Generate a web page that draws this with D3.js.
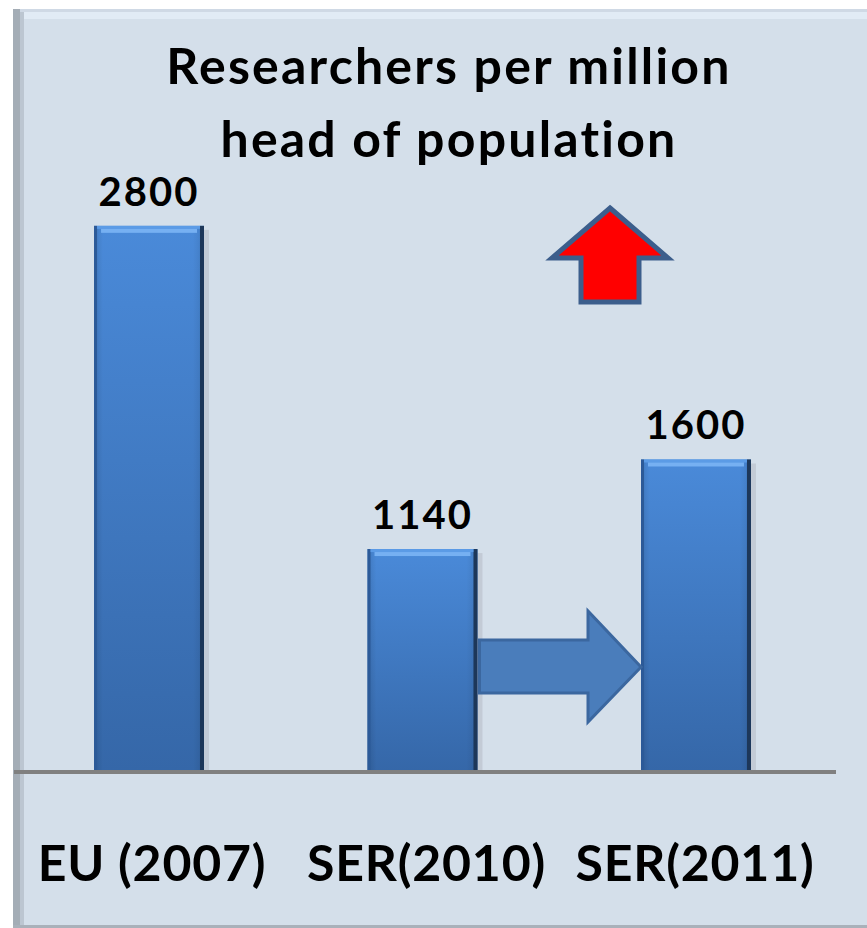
<!DOCTYPE html>
<html><head><meta charset="utf-8">
<script src="https://cdn.jsdelivr.net/npm/d3@7"></script>
<style>html,body{margin:0;padding:0;background:#fff;}svg{display:block;}</style>
</head><body>
<script>
const categories = ["EU (2007)", "SER(2010)", "SER(2011)"];
const values = [2800, 1140, 1600];
const titleLines = ["Researchers per million", "head of population"];

const W = 867, H = 928;
const svg = d3.select("body").append("svg").attr("width", W).attr("height", H);
const defs = svg.append("defs");

const g1 = defs.append("linearGradient").attr("id","barGrad").attr("x1",0).attr("y1",0).attr("x2",0).attr("y2",1);
g1.append("stop").attr("offset","0%").attr("stop-color","#4a8ad9");
g1.append("stop").attr("offset","100%").attr("stop-color","#3567a8");
const g2 = defs.append("linearGradient").attr("id","barSide").attr("x1",0).attr("y1",0).attr("x2",1).attr("y2",0);
g2.append("stop").attr("offset","0%").attr("stop-color","#000").attr("stop-opacity",0.12);
g2.append("stop").attr("offset","8%").attr("stop-color","#000").attr("stop-opacity",0);
g2.append("stop").attr("offset","90%").attr("stop-color","#000").attr("stop-opacity",0);
g2.append("stop").attr("offset","100%").attr("stop-color","#000").attr("stop-opacity",0.1);

// background panel
svg.append("rect").attr("x",13).attr("y",9).attr("width",W-13).attr("height",918).attr("fill","#d4dfea");
svg.append("rect").attr("x",13).attr("y",9).attr("width",W-13).attr("height",3).attr("fill","#cfd9e5");
svg.append("rect").attr("x",20).attr("y",12).attr("width",W-20).attr("height",7).attr("fill","#e1ebf5");
svg.append("rect").attr("x",13).attr("y",9).attr("width",7).attr("height",918).attr("fill","#a4adb6");
svg.append("rect").attr("x",20).attr("y",12).attr("width",4).attr("height",915).attr("fill","#bcc6d1");
svg.append("rect").attr("x",13).attr("y",925).attr("width",W-13).attr("height",3).attr("fill","#a9b1ba");

const x = d3.scaleBand().domain(categories).range([12, 833]).paddingInner(0.598).paddingOuter(0.3);
const y = d3.scaleLinear().domain([0, 3500]).range([771, 771 - 3500*0.1947]);

const fontFam = "Lato, 'Open Sans', sans-serif";

// title
svg.append("g").selectAll("text").data(titleLines).join("text")
  .attr("x", 449).attr("y", (d,i)=>84 + i*73)
  .attr("text-anchor","middle").attr("font-family",fontFam).attr("font-weight","bold")
  .attr("font-size", 50).attr("letter-spacing", 2.2).attr("fill","#000").text(d=>d);

// bars
const bars = svg.append("g").selectAll("g").data(values).join("g");
bars.append("rect").attr("x",(d,i)=>x(categories[i])+x.bandwidth()).attr("y",d=>y(d)+4)
  .attr("width",5).attr("height",d=>y(0)-y(d)-4).attr("fill","#c3cbd6");
bars.append("rect").attr("x",(d,i)=>x(categories[i])).attr("y",d=>y(d))
  .attr("width",x.bandwidth()).attr("height",d=>y(0)-y(d)).attr("fill","url(#barGrad)");
bars.append("rect").attr("x",(d,i)=>x(categories[i])).attr("y",d=>y(d))
  .attr("width",x.bandwidth()).attr("height",d=>y(0)-y(d)).attr("fill","url(#barSide)");
bars.append("rect").attr("x",(d,i)=>x(categories[i])).attr("y",d=>y(d))
  .attr("width",3).attr("height",d=>y(0)-y(d)).attr("fill","#2c5a98");
bars.append("rect").attr("x",(d,i)=>x(categories[i])+x.bandwidth()-4).attr("y",d=>y(d))
  .attr("width",4).attr("height",d=>y(0)-y(d)).attr("fill","#1d3759");
bars.append("rect").attr("x",(d,i)=>x(categories[i])+3).attr("y",d=>y(d))
  .attr("width",x.bandwidth()-7).attr("height",3).attr("fill","#5b9be6");
bars.append("rect").attr("x",(d,i)=>x(categories[i])+7).attr("y",d=>y(d)+3)
  .attr("width",x.bandwidth()-14).attr("height",4).attr("fill","#76b0f2");

// value labels
svg.append("g").selectAll("text").data(values).join("text")
  .attr("x",(d,i)=>x(categories[i])+x.bandwidth()/2).attr("y",d=>y(d)-20)
  .attr("text-anchor","middle").attr("font-family",fontFam).attr("font-weight","bold")
  .attr("font-size",40).attr("letter-spacing",2).attr("fill","#000").text(d=>d);

// baseline
svg.append("rect").attr("x",14).attr("y",770).attr("width",822).attr("height",4).attr("fill","#808080");

// category labels
svg.append("g").selectAll("text").data(categories).join("text")
  .attr("x",(d,i)=>x(d)+x.bandwidth()/2 + [3,4,-1][i]).attr("y",881)
  .attr("text-anchor","middle").attr("font-family",fontFam).attr("font-weight","bold")
  .attr("font-size",50).attr("letter-spacing",0.8).attr("fill","#000").text(d=>d);

// horizontal arrow between bar 2 and bar 3
const b2r = x(categories[1]) + x.bandwidth();
const b3l = x(categories[2]);
const arrowPts = [[b2r+2,640],[588,640],[588,611],[b3l,667],[588,722],[588,693],[b2r+2,693]];
svg.append("polygon").attr("points", arrowPts.map(p=>p.join(",")).join(" "))
  .attr("fill","#4a7dbb").attr("stroke","#3b679f").attr("stroke-width",3);

// red up arrow
const up = [[610,208],[668,258],[639,258],[639,302],[581,302],[581,258],[552,258]];
svg.append("polygon").attr("points", up.map(p=>p.join(",")).join(" "))
  .attr("fill","#ff0000").attr("stroke","#3c5e8c").attr("stroke-width",5).attr("stroke-linejoin","miter");
</script>
</body></html>
